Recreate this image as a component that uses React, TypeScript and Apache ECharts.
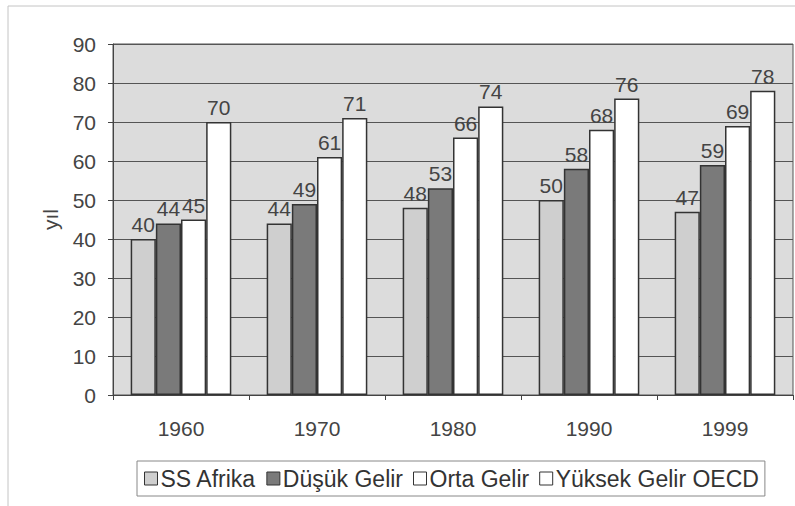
import React, { useEffect, useRef } from "react";
import * as echarts from "echarts";

const years = ["1960", "1970", "1980", "1990", "1999"];
const ssAfrika = [40, 44, 48, 50, 47];
const dusukGelir = [44, 49, 53, 58, 59];
const ortaGelir = [45, 61, 66, 68, 69];
const yuksekGelir = [70, 71, 74, 76, 78];
const seriesNames = ["SS Afrika", "Düşük Gelir", "Orta Gelir", "Yüksek Gelir OECD"];
const seriesColors = ["#cfcfcf", "#7a7a7a", "#ffffff", "#ffffff"];

export default function App() {
  const ref = useRef<HTMLDivElement>(null);
  useEffect(() => {
    if (!ref.current) return;
    const chart = echarts.init(ref.current, null, { renderer: "svg" });
    const data = [ssAfrika, dusukGelir, ortaGelir, yuksekGelir];
    const font = "Liberation Sans, Arial, sans-serif";
    chart.setOption({
      animation: false,
      backgroundColor: "#ffffff",
      textStyle: { fontFamily: font },
      graphic: [
        {
          type: "rect",
          shape: { x: 8, y: 6, width: 800, height: 520 },
          style: { fill: "none", stroke: "#c4c4c4", lineWidth: 1 },
          silent: true,
        },
      ],
      grid: {
        left: 113,
        top: 44,
        right: 2,
        bottom: 111,
        show: true,
        backgroundColor: "#dcdcdc",
        borderColor: "#555",
        borderWidth: 1,
      },
      legend: {
        data: seriesNames,
        left: 137,
        top: 461,
        itemWidth: 13,
        itemHeight: 13,
        itemGap: 10,
        padding: [6, 6, 6, 7],
        borderColor: "#888",
        borderWidth: 1,
        textStyle: { fontSize: 23, color: "#333", fontFamily: font, padding: [0, 0, 0, -2] },
        icon: "rect",
        itemStyle: { borderColor: "#333", borderWidth: 1 },
      },
      xAxis: {
        type: "category",
        data: years,
        axisLine: { lineStyle: { color: "#444", width: 1 } },
        axisTick: { show: true, alignWithLabel: false, length: 5, lineStyle: { color: "#444" } },
        axisLabel: { fontSize: 21, color: "#444", margin: 23, fontFamily: font },
      },
      yAxis: {
        type: "value",
        min: 0,
        max: 90,
        interval: 10,
        name: "yıl",
        nameLocation: "middle",
        nameGap: 52,
        nameRotate: 90,
        nameTextStyle: { fontSize: 21, color: "#444", fontFamily: font },
        axisLine: { show: true, lineStyle: { color: "#444" } },
        axisTick: { show: true, length: 5, lineStyle: { color: "#444" } },
        axisLabel: { fontSize: 21, color: "#444", margin: 17, fontFamily: font },
        splitLine: { show: true, lineStyle: { color: "#555", width: 1 } },
      },
      series: seriesNames.map((name, i) => ({
        name,
        type: "bar",
        data: data[i],
        barGap: "0%",
        barCategoryGap: "26%",
        itemStyle: { color: seriesColors[i], borderColor: "#333", borderWidth: 1.5 },
        label: {
          show: true,
          position: "top",
          distance: 4,
          fontSize: 21,
          color: "#444",
          fontFamily: font,
        },
      })),
    });
    return () => chart.dispose();
  }, []);
  return (
    <div
      ref={ref}
      style={{ position: "absolute", left: 0, top: 0, width: 795, height: 506 }}
    />
  );
}
